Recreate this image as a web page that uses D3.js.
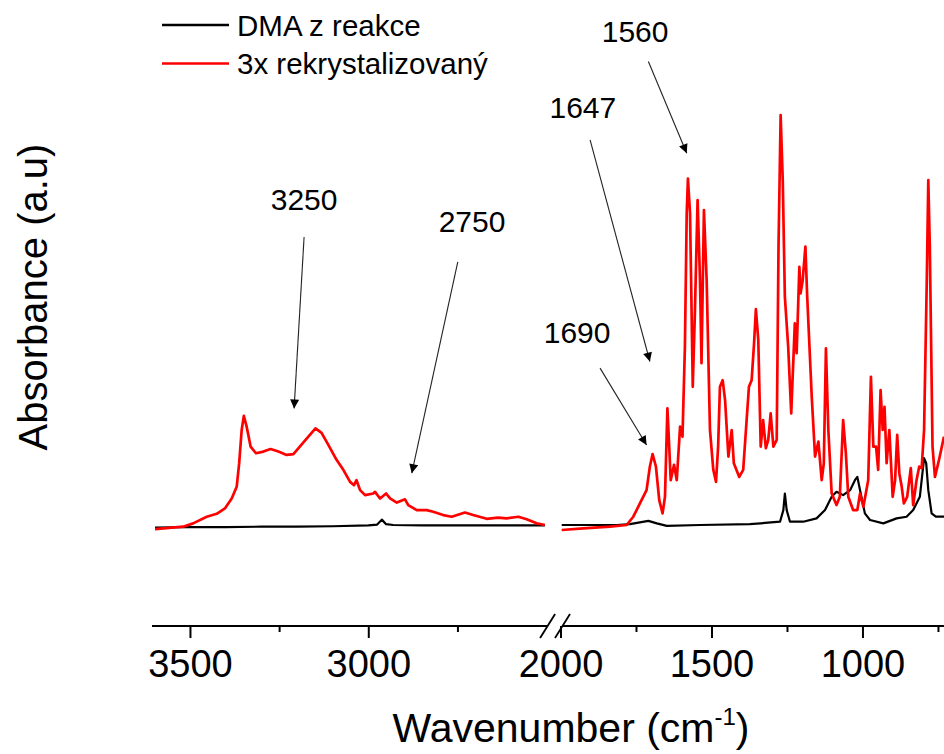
<!DOCTYPE html>
<html><head><meta charset="utf-8">
<script src="https://cdn.jsdelivr.net/npm/d3@7"></script>
<style>
html,body{margin:0;padding:0;background:#fff;}
svg{display:block;font-family:"Liberation Sans",Arial,sans-serif;}
</style></head>
<body><svg id="chart" width="944" height="754"></svg>
<script>
// ---- data (wavenumber cm-1, absorbance a.u.) ----
const seriesNames = ["DMA z reakce", "3x rekrystalizovaný"];
const seriesColors = ["#000000", "#ff0000"];

// left panel (3600-2500)
const redLeftWn = [3598,3519,3491,3453,3425,3402,3383,3369,3362,3355,3349,3341,3330,3315,3294,3274,3252,3229,3210,3192,3168,3148,3131,3112,3089,3070,3051,3040,3033,3023,3009,2986,2981,2967,2950,2939,2920,2897,2888,2864,2836,2818,2790,2766,2729,2706,2668,2636,2612,2579,2556,2528,2505];
const redLeftA  = [0.002,0.008,0.016,0.032,0.039,0.052,0.076,0.104,0.161,0.241,0.275,0.249,0.201,0.185,0.189,0.195,0.189,0.181,0.183,0.201,0.225,0.245,0.234,0.205,0.169,0.145,0.116,0.108,0.120,0.096,0.084,0.088,0.092,0.076,0.088,0.076,0.066,0.074,0.060,0.048,0.048,0.044,0.036,0.032,0.042,0.036,0.027,0.030,0.028,0.032,0.026,0.016,0.012];
const blackLeftWn = [3598,3500,3400,3300,3200,3100,3000,2975,2962,2950,2930,2850,2700,2600,2505];
const blackLeftA  = [0.006,0.007,0.007,0.008,0.008,0.009,0.011,0.013,0.025,0.014,0.012,0.011,0.011,0.011,0.011];

// right panel (2000-730)
const redRightWn = [1996,1925,1836,1781,1759,1737,1715,1704,1695,1684,1673,1662,1654,1646,1640,1635,1624,1615,1604,1596,1588,1582,1578,1571,1562,1555,1546,1538,1533,1525,1516,1505,1494,1485,1478,1472,1463,1455,1444,1433,1426,1408,1395,1376,1367,1359,1353,1345,1337,1329,1320,1312,1304,1295,1284,1278,1271,1264,1257,1246,1236,1224,1218,1209,1205,1198,1189,1183,1168,1157,1146,1135,1128,1121,1113,1102,1086,1075,1064,1055,1047,1031,1017,1008,997,981,972,964,955,948,940,933,927,920,911,900,892,885,878,870,863,852,840,832,821,812,804,796,787,782,777,768,760,749,730];
const redRightA  = [0.000,0.004,0.008,0.012,0.032,0.064,0.096,0.153,0.183,0.153,0.072,0.040,0.080,0.293,0.201,0.120,0.157,0.120,0.249,0.225,0.442,0.763,0.847,0.763,0.345,0.522,0.795,0.602,0.402,0.771,0.602,0.241,0.145,0.116,0.201,0.345,0.361,0.313,0.177,0.241,0.161,0.128,0.145,0.345,0.361,0.450,0.532,0.458,0.201,0.265,0.197,0.217,0.281,0.201,0.217,0.683,1.000,0.843,0.562,0.442,0.281,0.498,0.426,0.634,0.570,0.602,0.683,0.562,0.321,0.177,0.213,0.120,0.161,0.438,0.241,0.088,0.060,0.080,0.265,0.185,0.080,0.048,0.048,0.088,0.056,0.120,0.369,0.201,0.201,0.145,0.337,0.241,0.297,0.161,0.241,0.080,0.120,0.229,0.137,0.104,0.064,0.080,0.149,0.060,0.120,0.153,0.149,0.241,0.602,0.843,0.683,0.201,0.128,0.161,0.225];
const blackRightWn = [1996,1814,1770,1709,1681,1648,1538,1373,1273,1262,1257,1251,1240,1196,1152,1124,1102,1086,1064,1041,1025,1017,1008,992,975,931,887,854,832,810,796,789,782,771,757,730];
const blackRightA  = [0.012,0.012,0.014,0.022,0.016,0.010,0.012,0.014,0.020,0.048,0.088,0.048,0.020,0.020,0.028,0.048,0.080,0.092,0.084,0.096,0.120,0.128,0.096,0.040,0.024,0.016,0.028,0.032,0.048,0.080,0.173,0.161,0.096,0.040,0.032,0.032];

// axis ticks
const leftMajorTicks = [3500, 3000];
const leftMinorTicks = [3250, 2750];
const rightMajorTicks = [2000, 1500, 1000];
const rightMinorTicks = [1750, 1250, 750];

// annotations: label, tip (wn, A), tail (wn, A), text (wn, A), panel
const annLabels = ["3250", "2750", "1690", "1647", "1560"];
const annPanel  = ["L", "L", "R", "R", "R"];
const annTipWn  = [3208, 2878, 1715, 1704, 1582];
const annTipA   = [0.293, 0.137, 0.205, 0.406, 0.908];
const annTailWn = [3180, 2749, 1869, 1902, 1709];
const annTailA  = [0.706, 0.646, 0.390, 0.940, 1.129];
const annTextWn = [3180, 2709, 1945, 1926, 1753];
const annTextA  = [0.771, 0.718, 0.451, 0.993, 1.176];

// ---- scales ----
const svg = d3.select("#chart");
const xL = d3.scaleLinear().domain([3600, 2500]).range([154.3, 546.6]);
const xR = d3.scaleLinear().domain([2000, 730]).range([560.5, 944]);
const y = d3.scaleLinear().domain([0, 1]).range([530, 115]);
const axisY = 626;

const zip = (a, b) => a.map((v, i) => [v, b[i]]);

function drawLine(x, wn, A, color, w) {
  const line = d3.line().x(d => x(d[0])).y(d => y(d[1]));
  svg.append("path").datum(zip(wn, A))
    .attr("d", line).attr("fill", "none")
    .attr("stroke", color).attr("stroke-width", w)
    .attr("stroke-linejoin", "round");
}
drawLine(xL, blackLeftWn, blackLeftA, seriesColors[0], 2.2);
drawLine(xR, blackRightWn, blackRightA, seriesColors[0], 2.2);
drawLine(xL, redLeftWn, redLeftA, seriesColors[1], 2.7);
drawLine(xR, redRightWn, redRightA, seriesColors[1], 2.7);

// ---- axes ----
function drawAxis(x, major, minor, rangeExt) {
  const gMaj = svg.append("g").attr("transform", `translate(0,${axisY})`)
    .call(d3.axisBottom(x).tickValues(major).tickSize(12).tickPadding(12).tickFormat(d3.format("d")));
  gMaj.select(".domain").remove();
  gMaj.selectAll("line").attr("stroke", "#000").attr("stroke-width", 2);
  gMaj.selectAll("text").attr("font-size", 38).attr("fill", "#000")
    .attr("font-family", "Liberation Sans, Arial, sans-serif");
  const gMin = svg.append("g").attr("transform", `translate(0,${axisY})`)
    .call(d3.axisBottom(x).tickValues(minor).tickSize(6).tickFormat(""));
  gMin.select(".domain").remove();
  gMin.selectAll("line").attr("stroke", "#000").attr("stroke-width", 2);
  svg.append("line").attr("x1", rangeExt[0]).attr("x2", rangeExt[1])
    .attr("y1", axisY).attr("y2", axisY).attr("stroke", "#000").attr("stroke-width", 2.2);
}
drawAxis(xL, leftMajorTicks, leftMinorTicks, [152, xL.range()[1] + 1]);
drawAxis(xR, rightMajorTicks, rightMinorTicks, [xR.range()[0] + 2, 944]);

// break marks
const bx = [xL.range()[1] + 1, xR.range()[0] + 2];
bx.forEach(b => {
  svg.append("line").attr("x1", b - 7.5).attr("y1", axisY + 12)
    .attr("x2", b + 7.5).attr("y2", axisY - 12)
    .attr("stroke", "#000").attr("stroke-width", 1.8);
});

// axis titles
const xt = svg.append("text").attr("x", 571).attr("y", 742)
  .attr("text-anchor", "middle").attr("font-size", 41).attr("fill", "#000");
xt.append("tspan").text("Wavenumber (cm");
xt.append("tspan").attr("font-size", 24).attr("dy", -17).text("-1");
xt.append("tspan").attr("dy", 17).text(")");

svg.append("text").attr("transform", "translate(47,297) rotate(-90)")
  .attr("text-anchor", "middle").attr("font-size", 40).attr("fill", "#000")
  .text("Absorbance (a.u)");

// legend
const legend = svg.append("g");
seriesNames.forEach((name, i) => {
  const ly = 25 + i * 38.5;
  legend.append("line").attr("x1", 162).attr("x2", 229).attr("y1", ly).attr("y2", ly)
    .attr("stroke", seriesColors[i]).attr("stroke-width", 2.6);
  legend.append("text").attr("x", 237).attr("y", ly + 10.5).attr("font-size", 29.5)
    .attr("fill", "#000").text(name);
});

// annotations
const defs = svg.append("defs");
defs.append("marker").attr("id", "arr").attr("viewBox", "0 0 10 10")
  .attr("refX", 10).attr("refY", 5).attr("markerWidth", 12).attr("markerHeight", 9)
  .attr("markerUnits", "userSpaceOnUse").attr("orient", "auto")
  .append("path").attr("d", "M0,0 L10,5 L0,10 Z").attr("fill", "#000");

annLabels.forEach((lab, i) => {
  const x = annPanel[i] === "L" ? xL : xR;
  svg.append("line")
    .attr("x1", x(annTailWn[i])).attr("y1", y(annTailA[i]))
    .attr("x2", x(annTipWn[i])).attr("y2", y(annTipA[i]))
    .attr("stroke", "#222").attr("stroke-width", 1.1)
    .attr("marker-end", "url(#arr)");
  svg.append("text").attr("x", x(annTextWn[i])).attr("y", y(annTextA[i]))
    .attr("text-anchor", "middle").attr("font-size", 30).attr("fill", "#000")
    .text(lab);
});
</script></body></html>
